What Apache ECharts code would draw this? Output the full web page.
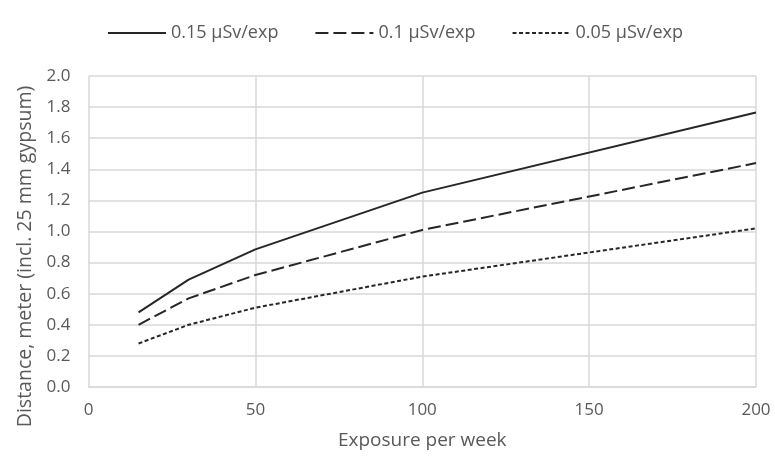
<!DOCTYPE html>
<html>
<head>
<meta charset="utf-8">
<script src="https://cdn.jsdelivr.net/npm/echarts@6/dist/echarts.min.js"></script>
<style>
  html, body { margin: 0; padding: 0; background: #ffffff; }
  #chart { width: 775px; height: 459px; }
</style>
</head>
<body>
<div id="chart"></div>
<script>
// Exposures per week at which each distance was calculated
const exposures = [15, 30, 50, 100, 200];

// Required distance (m, incl. 25 mm gypsum) per dose per exposure
const dose015 = [0.48, 0.69, 0.885, 1.25, 1.765];
const dose010 = [0.40, 0.57, 0.72, 1.01, 1.44];
const dose005 = [0.28, 0.40, 0.51, 0.71, 1.02];

const seriesNames = ['0.15 \u00b5Sv/exp', '0.1 \u00b5Sv/exp', '0.05 \u00b5Sv/exp'];

const xTicks = [0, 50, 100, 150, 200];
const yTicks = [0, 0.2, 0.4, 0.6, 0.8, 1.0, 1.2, 1.4, 1.6, 1.8, 2.0];

const FONT = '"Open Sans", "Noto Sans", sans-serif';
const TEXT = '#595959';
const GRID = '#d9d9d9';
const INK = '#262626';

function pairs(ys) {
  return exposures.map((x, i) => [x, ys[i]]);
}

const chart = echarts.init(document.getElementById('chart'), null, { renderer: 'canvas' });

chart.setOption({
  animation: false,
  backgroundColor: '#ffffff',
  textStyle: { fontFamily: FONT, color: TEXT },
  legend: {
    top: 24,
    left: 107,
    padding: 0,
    itemWidth: 58,
    itemHeight: 12,
    itemGap: 36,
    itemStyle: { opacity: 0 },
    textStyle: { fontFamily: FONT, fontSize: 18, color: TEXT },
    data: seriesNames
  },
  grid: { left: 88.5, right: 19, top: 76, bottom: 72, containLabel: false },
  xAxis: {
    type: 'value',
    min: xTicks[0],
    max: xTicks[xTicks.length - 1],
    interval: 50,
    name: 'Exposure per week',
    nameLocation: 'middle',
    nameGap: 44,
    nameTextStyle: { fontFamily: FONT, fontSize: 19, color: TEXT },
    axisLine: { show: true, lineStyle: { color: GRID, width: 1.5 } },
    axisTick: { show: false },
    axisLabel: { fontFamily: FONT, fontSize: 17, color: TEXT, margin: 15 },
    splitLine: { show: true, lineStyle: { color: GRID, width: 1.5 } }
  },
  yAxis: {
    type: 'value',
    min: yTicks[0],
    max: yTicks[yTicks.length - 1],
    interval: 0.2,
    name: 'Distance, meter (incl. 25 mm gypsum)',
    nameLocation: 'middle',
    nameGap: 52,
    nameTextStyle: { fontFamily: FONT, fontSize: 19.5, color: TEXT, padding: [0, 50, 0, 0] },
    axisLine: { show: false },
    axisTick: { show: false },
    axisLabel: {
      fontFamily: FONT, fontSize: 17, color: TEXT, margin: 18,
      formatter: v => v.toFixed(1)
    },
    splitLine: { show: true, lineStyle: { color: GRID, width: 1.5 } }
  },
  series: [
    {
      name: seriesNames[0], type: 'line', data: pairs(dose015),
      symbol: 'none', color: INK,
      lineStyle: { color: INK, width: 2, type: 'solid' }
    },
    {
      name: seriesNames[1], type: 'line', data: pairs(dose010),
      symbol: 'none', color: INK,
      lineStyle: { color: INK, width: 2, type: [13, 5] }
    },
    {
      name: seriesNames[2], type: 'line', data: pairs(dose005),
      symbol: 'none', color: INK,
      lineStyle: { color: INK, width: 2, type: [4, 2.5] }
    }
  ]
});
</script>
</body>
</html>
